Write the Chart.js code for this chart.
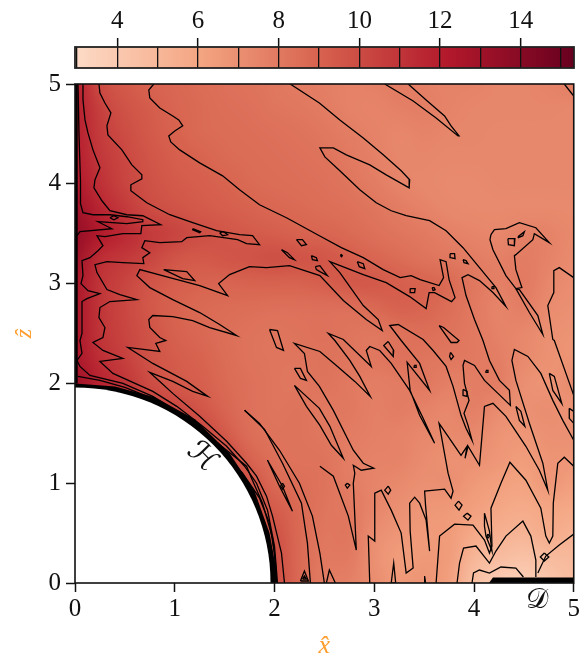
<!DOCTYPE html>
<html>
<head>
<meta charset="utf-8">
<script src="https://cdn.jsdelivr.net/npm/chart.js@4"></script>
<style>
  html, body { margin: 0; padding: 0; background: #fff; }
  canvas { position: absolute; left: 0; top: 0; }
</style>
</head>
<body>
<canvas id="fieldPlot" width="582" height="658"></canvas>
<canvas id="colorBar" width="582" height="80"></canvas>
<script>
// colour bar
const barMin = 2.95;
const barMax = 15.32;
const barLevels = [3, 4, 5, 6, 7, 8, 9, 10, 11, 12, 13, 14, 15];
const barLabels = [4, 6, 8, 10, 12, 14];
const mapColors = ['#fddbc7', '#f4a582', '#d6604d', '#b2182b', '#67001f'];

const axisTicks = [0, 1, 2, 3, 4, 5];

// field, rows from z=5 down to z=0, columns x=0..5 every 0.25
const fieldRows = [
  [12, 10, 9.4, 9.0, 8.8, 8.6, 8.4, 8.3, 8.1, 7.9, 7.75, 7.6, 7.7, 7.9, 7.7, 7.55, 7.55, 7.45, 7.45, 7.55, 7.8],
  [12, 10.5, 9.7, 9.3, 8.9, 8.7, 8.5, 8.4, 8.2, 8.1, 7.9, 7.6, 7.5, 7.7, 7.8, 7.55, 7.45, 7.45, 7.45, 7.45, 7.35],
  [12, 10.7, 10, 9.4, 9.05, 8.7, 8.6, 8.5, 8.4, 8.3, 8.1, 7.85, 7.6, 7.4, 7.55, 7.45, 7.45, 7.35, 7.35, 7.35, 7.35],
  [12, 10.9, 10.2, 9.6, 9.2, 9.0, 8.7, 8.6, 8.5, 8.4, 8.3, 8.0, 7.7, 7.45, 7.45, 7.35, 7.35, 7.35, 7.35, 7.35, 7.35],
  [12.3, 11.2, 10.3, 9.8, 9.4, 9.2, 9.0, 8.7, 8.6, 8.5, 8.4, 8.2, 7.85, 7.5, 7.35, 7.25, 7.25, 7.35, 7.35, 7.35, 7.35],
  [13, 11.7, 10.8, 10, 9.7, 9.4, 9.2, 9.0, 8.8, 8.7, 8.55, 8.4, 8.2, 7.9, 7.6, 7.35, 7.25, 7.25, 7.25, 7.25, 7.25],
  [13.5, 12.2, 11.5, 10.8, 10.4, 9.9, 9.6, 9.4, 9.2, 9.0, 8.9, 8.7, 8.4, 8.2, 8.0, 7.7, 7.5, 7.4, 7.7, 7.6, 7.3],
  [13, 11.3, 10.8, 10.3, 9.6, 9.4, 9.6, 9.7, 9.9, 9.7, 9.6, 9.2, 8.9, 8.6, 8.3, 8.1, 7.85, 7.7, 7.9, 7.6, 7.2],
  [12.5, 11, 10.3, 9.6, 9.2, 9.0, 8.9, 9.0, 9.0, 9.0, 9.2, 9.5, 9.5, 9.2, 9.0, 8.7, 8.1, 7.7, 8.0, 7.4, 7.1],
  [12.5, 11, 10.2, 9.5, 9.0, 8.7, 8.6, 8.5, 8.4, 8.4, 8.4, 8.4, 8.7, 9.1, 8.9, 8.5, 8.0, 7.5, 7.8, 7.2, 7.0],
  [12.5, 11, 10.3, 9.7, 9.1, 8.8, 8.5, 8.3, 8.2, 8.3, 8.4, 8.2, 8.1, 8.3, 8.5, 8.3, 8.0, 7.6, 7.4, 7.0, 6.8],
  [12.5, 11.3, 10.5, 9.7, 9.3, 9.0, 8.6, 8.3, 8.2, 8.2, 8.3, 8.2, 8.1, 8.4, 8.2, 8.1, 8.0, 7.8, 7.3, 6.9, 6.8],
  [13, 11.8, 11, 10, 9.5, 9.2, 8.7, 8.4, 8.2, 8.1, 8.3, 8.0, 7.8, 7.9, 8.1, 7.7, 7.8, 7.9, 7.0, 6.8, 7.2],
  [12.5, 12, 11.5, 10.5, 10.2, 9.6, 8.9, 8.4, 8.2, 8.3, 8.0, 8.1, 7.7, 7.9, 7.6, 7.4, 7.8, 7.2, 7.0, 7.1, 6.8],
  [11, 11, 11, 11, 10.5, 10.3, 9.4, 8.5, 8.3, 8.3, 8.1, 7.9, 7.7, 7.6, 7.4, 7.3, 7.4, 6.8, 6.7, 7.0, 7.0],
  [10, 10, 10, 10, 10, 10, 10.2, 9.0, 8.4, 8.3, 8.3, 7.8, 7.6, 7.6, 7.2, 6.9, 7.0, 6.7, 6.4, 6.8, 6.7],
  [10, 10, 10, 10, 10, 10, 10, 9.8, 8.7, 8.5, 8.3, 7.9, 7.5, 7.3, 7.0, 7.1, 6.6, 6.3, 6.1, 6.7, 6.3],
  [10, 10, 10, 10, 10, 10, 10, 10, 9.3, 8.7, 8.2, 8.0, 7.5, 7.0, 6.7, 6.6, 6.3, 5.9, 5.7, 6.0, 5.8],
  [10, 10, 10, 10, 10, 10, 10, 10, 9.8, 8.7, 8.1, 8.2, 7.1, 6.7, 6.5, 6.5, 5.8, 5.4, 5.2, 5.7, 5.3],
  [10, 10, 10, 10, 10, 10, 10, 10, 10, 8.7, 8.0, 8.0, 7.0, 6.4, 6.6, 6.5, 5.0, 4.7, 4.4, 4.8, 4.9],
  [10, 10, 10, 10, 10, 10, 10, 10, 10, 8.7, 7.9, 7.7, 7.1, 6.6, 6.8, 6.3, 4.5, 3.8, 3.7, 4.1, 4.8]
];

// level lines
const lineA = [[.79,5],[.74,4.94],[.75,4.86],[.85,4.76],[.98,4.68],[1.04,4.64],[1.08,4.58],[1,4.53],[.94,4.48],[.96,4.42],[1.05,4.34],[1.25,4.21],[1.48,4.08],[1.65,3.94],[1.85,3.79],[2.12,3.66],[2.45,3.48],[2.67,3.36],[2.89,3.26],[3.09,3.14],[3.26,3.06],[3.37,3.08],[3.46,3.04],[3.65,2.98],[3.695,3.06],[3.66,3.24],[3.72,3.22],[3.75,3.04],[3.81,2.86],[3.775,2.82],[3.605,2.91],[3.55,2.91],[3.52,2.75],[3.355,2.87],[3.12,3.01],[2.89,3.09],[2.555,3.22],[2.655,3.11],[2.89,2.78],[3.04,2.64],[3.08,2.53],[2.92,2.64],[2.69,2.83],[2.455,3.08],[2.15,3.18],[1.92,3.16],[1.75,3.17],[1.55,3.09],[1.44,3],[1.53,2.88],[1.25,2.98],[.95,3.06],[.65,3.14],[.62,3.08],[.75,2.96],[.98,2.84],[1.25,2.71],[1.45,2.59],[1.62,2.48],[1.35,2.56],[1.18,2.63],[.98,2.67],[.78,2.68],[.74,2.64],[.75,2.56],[.85,2.46],[.91,2.43],[.81,2.4],[.85,2.32],[.53,2.36],[.78,2.2],[1.12,2.02],[1.33,1.87],[1.18,1.92],[.98,2.02],[.75,2.11],[.85,2.02],[.98,1.9],[1.25,1.67],[1.52,1.42],[1.72,1.2],[1.82,1.07],[1.92,.87],[1.98,.67],[2.07,.3],[2.1,0]];
const lineB = [[.24,5],[.25,4.91],[.3,4.81],[.36,4.71],[.32,4.58],[.33,4.49],[.47,4.34],[.57,4.19],[.67,4.09],[.67,4.05],[.56,3.99],[.56,3.93],[.72,3.81],[.95,3.69],[1.18,3.61],[1.42,3.53],[1.65,3.49],[1.78,3.48],[1.85,3.39],[1.72,3.4],[1.63,3.44],[1.35,3.48],[1.12,3.46],[1.07,3.42],[.85,3.41],[.7,3.43],[.67,3.36],[.75,3.31],[.68,3.26],[.69,3.2],[.48,3.21],[.32,3.22],[.2,3.19],[.22,3.11],[.32,2.94],[.45,2.89],[.62,2.84],[.35,2.82],[.25,2.76],[.24,2.66],[.3,2.56],[.28,2.46],[.18,2.41],[.28,2.33],[.48,2.25],[.25,2.22],[.38,2.1],[.78,1.92],[1.02,1.77],[1.28,1.57],[1.52,1.37],[1.7,1.17],[1.82,1],[1.93,.73],[2,.37],[2.03,0]];
const lineC = [[.08,5],[.08,4.84],[.1,4.64],[.13,4.51],[.18,4.34],[.25,4.16],[.2,4.04],[.19,3.96],[.27,3.83],[.35,3.73],[.52,3.69],[.68,3.68],[.86,3.59],[.67,3.58],[.66,3.5],[.48,3.5],[.3,3.47],[.22,3.48],[.28,3.38],[.23,3.33],[.15,3.26],[.07,3.23],[.08,3.08],[.06,3],[.13,2.93],[.25,2.9],[.12,2.85],[.07,2.82],[.07,2.5],[.05,2.43],[.07,2.3],[.02,2.23],[.05,2.17],[.15,2.08],[.48,2],[.78,1.87],[1.02,1.72],[1.28,1.52],[1.52,1.33],[1.72,1.17],[1.77,1.05],[1.88,.8],[1.98,.45],[2.01,.2],[2.02,0]];
const lineD = [[.03,5],[.04,4.5],[.055,4.03],[.055,3.8],[.08,3.71],[.18,3.69],[.35,3.69],[.52,3.67],[.68,3.64],[.68,3.62],[.52,3.6],[.23,3.62],[.37,3.55],[.05,3.52],[.02,3.48]];
const lineE = [[.03,2.07],[.25,2.03],[.5,1.96],[.8,1.84],[1,1.73],[1.25,1.55],[1.5,1.3],[1.68,1.1],[1.85,.85],[1.95,.6],[2,.3],[2.02,0]];
const lineF = [[2.157,5],[2.45,4.81],[2.655,4.64],[2.89,4.46],[3.09,4.29],[3.27,4.13],[3.355,4.04],[3.35,3.96],[3.12,4.09],[2.955,4.19],[2.72,4.29],[2.59,4.36],[2.455,4.36],[2.505,4.27],[2.655,4.13],[2.855,3.94],[3.02,3.81],[3.17,3.73],[3.32,3.68],[3.555,3.63],[3.72,3.53],[3.89,3.36],[4.055,3.16],[4.22,2.96],[4.32,2.77],[4.19,2.91],[4.055,3.03],[3.94,3.09],[3.88,3.06],[3.92,2.88],[4.005,2.64],[4.09,2.43],[4.155,2.23],[4.255,2.03],[4.355,1.93],[4.365,1.78],[4.24,1.9],[4.105,2.03],[4.005,2.18],[3.905,2.23],[3.89,2.18],[3.905,2],[3.95,1.83],[3.9,1.7],[3.94,1.58],[3.98,1.43],[3.92,1.55],[3.87,1.68],[3.79,1.97],[3.72,2.17],[3.59,2.33],[3.49,2.44],[3.24,2.59],[3.155,2.58],[3.27,2.43],[3.455,2.2],[3.555,1.93],[3.33,2.21],[3.36,1.93],[3.455,1.68],[3.605,1.4],[3.49,1.65],[3.355,1.93],[3.17,2.2],[3.055,2.33],[2.955,2.37],[2.92,2.33],[2.97,2.17],[2.69,2.44],[2.54,2.5],[2.605,2.43],[2.755,2.23],[2.855,2.07],[2.96,1.87],[2.805,2.02],[2.62,2.18],[2.455,2.32],[2.2,2.4],[2.3,2.3],[2.33,2.12],[2.45,1.97],[2.59,1.73],[2.79,1.33],[2.89,1.2],[2.995,1.15],[2.87,1.13],[2.79,1.18],[2.805,1.1],[2.79,1],[2.82,.33],[2.74,.67],[2.59,1.07],[2.455,1.17]];
const lineG = [[1.7,1.73],[1.85,1.6],[2.05,1.33],[2.25,1],[2.38,.67],[2.455,.3],[2.47,.2],[2.5,0]];
const lineH = [[1.7,1.73],[1.9,1.54],[2.08,1.2],[2.27,.8],[2.33,.4],[2.36,0]];
const lineI = [[2.52,0],[2.55,.13],[2.61,0]];
const lineJ = [[2.955,0],[2.94,.47],[3.005,.42],[3.005,.9],[3.07,.93],[3.17,.73],[3.27,.5],[3.32,.1],[3.39,.15],[3.36,.52],[3.355,.8],[3.405,.86],[3.455,.8],[3.52,.63],[3.555,.32],[3.515,.77],[3.505,.92],[3.605,.93],[3.705,.94],[3.77,.85],[3.79,.92],[3.74,1.1],[3.65,1.6],[3.74,1.47],[3.87,1.28],[3.93,1.37],[3.91,1.25],[3.94,1.37],[4.055,1.18],[4.105,1.77],[4.19,1.8],[4.32,1.67],[4.52,1.37],[4.655,1.13],[4.74,.93],[4.69,1.2],[4.555,1.6],[4.42,2.03],[4.38,2.23],[4.405,2.34],[4.54,2.27],[4.67,2.1],[4.79,1.83],[4.89,1.63],[5,1.43]];
const lineK = [[5,3.06],[4.855,3.16],[4.8,3.13],[4.8,2.91],[4.74,2.78],[4.79,2.44],[4.805,2.43],[5,1.88]];
const lineL = [[3.62,0],[3.655,.47],[3.805,.59],[3.99,.58],[4.105,.43],[4.155,.3],[4.18,.37],[4.17,.75],[4.27,1],[4.36,1.21],[4.52,1.03],[4.67,.75],[4.72,.47],[4.755,.4],[4.79,.47],[4.795,.8],[4.84,1.2],[4.905,1.26],[5,1.17]];
const lineM = [[3.83,0],[3.855,.2],[3.895,.35],[4.02,.37],[4.155,.2],[4.22,.32],[4.32,.47],[4.49,.62],[4.57,.47],[4.62,.23],[4.62,.06]];
const lineN = [[4.64,.1],[4.72,.27],[4.855,.38],[5,.49]];
const lineO = [[3.98,0],[3.995,.1],[4.055,.13],[4.155,.1],[4.27,.16],[4.42,.15],[4.495,.06]];
const tongueTop = [[3.105,5],[3.39,4.83],[3.62,4.66],[3.84,4.48],[3.85,4.48],[3.77,4.58],[3.705,4.68],[3.52,4.84],[3.34,5]];
const cornerTop = [[4.905,5],[5,4.88]];
const tongueRight = [[4.17,3.49],[4.205,3.54],[4.32,3.55],[4.455,3.61],[4.62,3.56],[4.755,3.41],[4.605,3.5],[4.59,3.44],[4.42,3.29],[4.405,3.28],[4.42,3.14],[4.48,2.96],[4.42,2.95],[4.32,3.08],[4.19,3.34],[4.16,3.44],[4.17,3.49]];

// small closed loops
const loops = [
  [[.35,3.66],[.39,3.68],[.43,3.66],[.39,3.64]],
  [[1.18,3.55],[1.26,3.52],[1.25,3.51],[1.18,3.54]],
  [[1.45,3.51],[1.49,3.52],[1.53,3.49],[1.48,3.48]],
  [[2.22,3.44],[2.28,3.44],[2.32,3.39],[2.27,3.38]],
  [[2.07,3.34],[2.13,3.31],[2.2,3.24],[2.15,3.26]],
  [[2.37,3.28],[2.42,3.26],[2.43,3.23],[2.38,3.24]],
  [[2.41,3.17],[2.455,3.18],[2.53,3.08],[2.455,3.12],[2.42,3.14]],
  [[.89,3.14],[1.12,3.12],[1.2,3.03],[1.08,3.05]],
  [[1.95,2.54],[2.03,2.53],[2.09,2.33],[2.02,2.36]],
  [[2.66,3.285],[2.67,3.29],[2.68,3.28],[2.67,3.27]],
  [[2.83,3.22],[2.89,3.2],[2.905,3.15],[2.85,3.17]],
  [[3.36,2.95],[3.41,2.95],[3.405,2.91],[3.36,2.91]],
  [[3.58,2.96],[3.6,2.96],[3.61,2.94],[3.59,2.93]],
  [[3.76,3.3],[3.805,3.3],[3.81,3.25],[3.765,3.26]],
  [[3.89,3.24],[3.92,3.23],[3.94,3.2],[3.9,3.21]],
  [[4.18,2.97],[4.2,2.97],[4.2,2.95],[4.18,2.95]],
  [[4.34,3.45],[4.41,3.45],[4.405,3.38],[4.345,3.39]],
  [[4.44,3.47],[4.505,3.52],[4.49,3.48],[4.445,3.46]],
  [[4.42,2.95],[4.555,2.71],[4.69,2.49],[4.64,2.68],[4.455,2.94]],
  [[4.755,2.1],[4.805,2.07],[4.88,1.8],[4.79,1.93]],
  [[4.955,1.75],[5,1.72],[5,1.6],[4.955,1.65]],
  [[4.42,1.77],[4.47,1.72],[4.51,1.57],[4.455,1.63]],
  [[3.14,.97],[3.165,.93],[3.14,.89],[3.105,.93]],
  [[3.845,.82],[3.88,.78],[3.85,.73],[3.81,.78]],
  [[3.93,.7],[3.97,.67],[3.94,.63],[3.895,.67]],
  [[2.73,1],[2.755,.98],[2.73,.95],[2.71,.98]],
  [[3.14,2.42],[3.195,2.33],[3.19,2.27],[3.095,2.38]],
  [[3.765,2.31],[3.795,2.27],[3.77,2.24],[3.755,2.27]],
  [[3.89,1.94],[3.93,1.92],[3.93,1.87],[3.89,1.88]],
  [[3.4,2.18],[3.42,2.18],[3.42,2.16],[3.4,2.16]],
  [[4.12,2.13],[4.14,2.13],[4.14,2.11],[4.12,2.11]],
  [[4.705,.3],[4.75,.26],[4.705,.22],[4.665,.26]],
  [[4.105,.7],[4.155,.52],[4.18,.32],[4.12,.47],[4.105,.57]],
  [[4.14,.49],[4.155,.47],[4.14,.45],[4.13,.47]],
  [[2.2,2.15],[2.26,2.15],[2.32,2.03],[2.26,2.05]],
  [[2.2,1.98],[2.45,1.75],[2.555,1.57],[2.69,1.25],[2.57,1.38],[2.455,1.58],[2.32,1.77]],
  [[3.65,2.58],[3.695,2.56],[3.85,2.43],[3.83,2.41],[3.77,2.41]],
  [[1.93,1.23],[2.08,.97],[2.18,.72],[2.05,.97]],
  [[2.08,1],[2.1,.97],[2.08,.94],[2.06,.97]],
  [[3.17,0],[3.195,.2],[3.215,0]],
  [[3.5,0],[3.505,.07],[3.515,0]],
  [[2.26,.02],[2.3,.12],[2.34,.02]],
  [[2.28,.04],[2.3,.07],[2.32,.04]]
];

const openLines = [lineA, lineB, lineC, lineD, lineE, lineF, lineG, lineH, lineI, lineJ, lineK, lineL, lineM, lineN, lineO, tongueTop, cornerTop, tongueRight];

// the thick black walls
const axisWall = [[.012,5],[.012,2]];
const holeRadius = 1.96;
const holeWall = [[0,0],[0,2],[.4,1.97],[.8,1.86],[1.2,1.64],[1.55,1.3],[1.8,.92],[1.95,.5],[2.015,.15],[2.02,0]];
const drainWall = [[4.15,0],[4.19,.055],[5,.055],[5,0]];

const holeLabel = { text: '\u210B', x: 1.27, y: 1.26 };
const drainLabel = { text: '\uD835\uDC9F', x: 4.63, y: -0.18 };

function mapValue(v) {
  const t = Math.min(Math.max((v - barMin) / (barMax - barMin), 0), 1) * (mapColors.length - 1);
  const i = Math.min(Math.floor(t), mapColors.length - 2);
  const f = t - i;
  const a = parseInt(mapColors[i].slice(1), 16);
  const b = parseInt(mapColors[i + 1].slice(1), 16);
  return [16, 8, 0].map(s => Math.round(((a >> s) & 255) * (1 - f) + ((b >> s) & 255) * f));
}

function fieldImage() {
  const off = document.createElement('canvas');
  off.width = fieldRows[0].length;
  off.height = fieldRows.length;
  const c = off.getContext('2d');
  const img = c.createImageData(off.width, off.height);
  fieldRows.forEach((row, j) => row.forEach((v, i) => {
    const rgb = mapValue(v);
    const k = (j * off.width + i) * 4;
    img.data[k] = rgb[0];
    img.data[k + 1] = rgb[1];
    img.data[k + 2] = rgb[2];
    img.data[k + 3] = 255;
  }));
  c.putImageData(img, 0, 0);
  return off;
}

function fillPolygon(ctx, xs, ys, pts) {
  ctx.beginPath();
  pts.forEach((p, i) => {
    if (i === 0) ctx.moveTo(xs.getPixelForValue(p[0]), ys.getPixelForValue(p[1]));
    else ctx.lineTo(xs.getPixelForValue(p[0]), ys.getPixelForValue(p[1]));
  });
  ctx.closePath();
  ctx.fill();
}

const backgroundPlugin = {
  id: 'fieldBackground',
  beforeDatasetsDraw(chart) {
    const ctx = chart.ctx;
    const xs = chart.scales.x;
    const ys = chart.scales.y;
    const area = chart.chartArea;
    ctx.save();
    ctx.beginPath();
    ctx.rect(area.left, area.top, area.right - area.left, area.bottom - area.top);
    ctx.clip();
    ctx.imageSmoothingEnabled = true;
    ctx.imageSmoothingQuality = 'high';
    const left = xs.getPixelForValue(-0.125);
    const right = xs.getPixelForValue(5.125);
    const top = ys.getPixelForValue(5.125);
    const bottom = ys.getPixelForValue(-0.125);
    ctx.drawImage(fieldImage(), left, top, right - left, bottom - top);
    ctx.fillStyle = '#000';
    fillPolygon(ctx, xs, ys, holeWall);
    fillPolygon(ctx, xs, ys, drainWall);
    ctx.fillStyle = '#fff';
    ctx.beginPath();
    ctx.arc(xs.getPixelForValue(0), ys.getPixelForValue(0), xs.getPixelForValue(holeRadius) - xs.getPixelForValue(0), 0, Math.PI * 2);
    ctx.fill();
    ctx.restore();
  },
  afterDraw(chart) {
    const ctx = chart.ctx;
    const xs = chart.scales.x;
    const ys = chart.scales.y;
    const area = chart.chartArea;
    ctx.save();
    ctx.strokeStyle = '#111';
    ctx.lineWidth = 1.6;
    ctx.strokeRect(area.left, area.top, area.right - area.left, area.bottom - area.top);
    ctx.fillStyle = '#111';
    ctx.textAlign = 'center';
    ctx.textBaseline = 'middle';
    ctx.font = '30px "DejaVu Serif", "DejaVu Sans", serif';
    ctx.translate(xs.getPixelForValue(holeLabel.x), ys.getPixelForValue(holeLabel.y));
    ctx.rotate(Math.PI / 4);
    ctx.fillText(holeLabel.text, 0, 0);
    ctx.restore();
    ctx.save();
    ctx.fillStyle = '#111';
    ctx.textAlign = 'center';
    ctx.textBaseline = 'middle';
    ctx.font = '28px "DejaVu Serif", "DejaVu Sans", serif';
    ctx.fillText(drainLabel.text, xs.getPixelForValue(drainLabel.x), ys.getPixelForValue(drainLabel.y));
    ctx.restore();
  }
};

const framePlugin = {
  id: 'barFrame',
  afterDraw(chart) {
    const a = chart.chartArea;
    const ctx = chart.ctx;
    ctx.save();
    ctx.strokeStyle = '#222';
    ctx.lineWidth = 1.8;
    ctx.strokeRect(a.left, a.top, a.right - a.left, a.bottom - a.top);
    ctx.restore();
  }
};

const toPoints = pts => pts.map(p => ({ x: p[0], y: p[1] }));
const lineDataset = (pts, width) => ({
  data: toPoints(pts),
  showLine: true,
  borderColor: '#000',
  borderWidth: width,
  pointRadius: 0,
  tension: 0
});

const datasets = [lineDataset(axisWall, 3)]
  .concat(openLines.map(l => lineDataset(l, 1.3)))
  .concat(loops.map(l => lineDataset(l.concat([l[0]]), 1.3)));

Chart.defaults.font.family = '"Liberation Serif", serif';
Chart.defaults.color = '#111';

new Chart(document.getElementById('fieldPlot').getContext('2d'), {
  type: 'scatter',
  data: { datasets: datasets },
  plugins: [backgroundPlugin],
  options: {
    responsive: false,
    animation: false,
    layout: { padding: { top: 84, right: 8, left: 0, bottom: 0 } },
    plugins: { legend: { display: false }, tooltip: { enabled: false } },
    scales: {
      x: {
        type: 'linear',
        min: 0,
        max: 5,
        afterFit: s => { s.height = 75; },
        afterBuildTicks: s => { s.ticks = axisTicks.map(v => ({ value: v })); },
        grid: { drawOnChartArea: false, tickLength: 9, tickWidth: 1.5, tickColor: '#111' },
        border: { display: false },
        ticks: { font: { size: 25 }, maxRotation: 0, padding: 2 },
        title: { display: true, text: 'x\u0302', color: '#ff9d2e', font: { size: 26, style: 'italic' }, padding: { top: 0, bottom: -4 } }
      },
      y: {
        type: 'linear',
        min: 0,
        max: 5,
        afterFit: s => { s.width = 75; },
        afterBuildTicks: s => { s.ticks = axisTicks.map(v => ({ value: v })); },
        grid: { drawOnChartArea: false, tickLength: 9, tickWidth: 1.5, tickColor: '#111' },
        border: { display: false },
        ticks: { font: { size: 25 }, padding: 5 },
        title: { display: true, text: 'z\u0302', color: '#ff9d2e', font: { size: 24, style: 'italic' }, padding: { top: 10, bottom: 0 } }
      }
    }
  }
});

new Chart(document.getElementById('colorBar').getContext('2d'), {
  type: 'bar',
  data: {
    labels: ['level'],
    datasets: [{
      data: [[barMin, barMax]],
      barPercentage: 1,
      categoryPercentage: 1,
      backgroundColor: function (c) {
        const a = c.chart.chartArea;
        if (!a) return mapColors[2];
        const g = c.chart.ctx.createLinearGradient(a.left, 0, a.right, 0);
        mapColors.forEach((col, i) => g.addColorStop(i / (mapColors.length - 1), col));
        return g;
      }
    }]
  },
  plugins: [framePlugin],
  options: {
    responsive: false,
    animation: false,
    indexAxis: 'y',
    layout: { padding: { left: 75, right: 8, top: 0, bottom: 12 } },
    plugins: { legend: { display: false }, tooltip: { enabled: false } },
    scales: {
      x: {
        type: 'linear',
        position: 'top',
        min: barMin,
        max: barMax,
        afterFit: s => { s.height = 47; },
        afterBuildTicks: s => { s.ticks = barLevels.map(v => ({ value: v })); },
        grid: {
          z: 1,
          color: '#111',
          lineWidth: 1.3,
          tickLength: 9,
          tickWidth: 1.5,
          tickColor: c => (c.tick && barLabels.includes(c.tick.value) ? '#111' : 'rgba(0,0,0,0)')
        },
        border: { display: false },
        ticks: {
          font: { size: 25 },
          padding: 2,
          maxRotation: 0,
          autoSkip: false,
          callback: v => (barLabels.includes(v) ? String(v) : '')
        }
      },
      y: { display: false }
    }
  }
});
</script>
</body>
</html>
